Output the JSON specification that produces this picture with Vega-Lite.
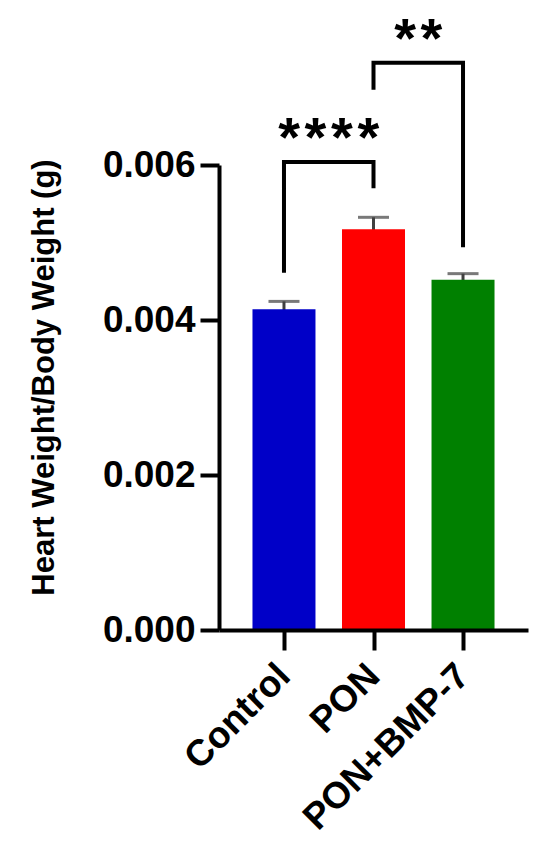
{
  "$schema": "https://vega.github.io/schema/vega-lite/v6.json",
  "width": 309,
  "height": 465,
  "autosize": {"type": "none"},
  "padding": {"left": 219, "top": 165, "right": 22, "bottom": 230},
  "background": "white",
  "config": {"view": {"stroke": null}, "font": "Liberation Sans"},
  "datasets": {
    "bars": [
      {"group": "Control", "x": 1, "y": 0.00414, "sem": 0.0001},
      {"group": "PON", "x": 2, "y": 0.00517, "sem": 0.000155},
      {"group": "PON+BMP-7", "x": 3, "y": 0.00452, "sem": 0.000078}
    ],
    "brackets": [
      {"b": "A", "k": 1, "x": 1, "y": 0.00461},
      {"b": "A", "k": 2, "x": 1, "y": 0.00604},
      {"b": "A", "k": 3, "x": 2, "y": 0.00604},
      {"b": "A", "k": 4, "x": 2, "y": 0.0057},
      {"b": "B", "k": 1, "x": 2, "y": 0.00697},
      {"b": "B", "k": 2, "x": 2, "y": 0.00732},
      {"b": "B", "k": 3, "x": 3, "y": 0.00732},
      {"b": "B", "k": 4, "x": 3, "y": 0.00494}
    ],
    "stars": [
      {"x": 1.5, "y": 0.006116, "label": "*\u200a*\u200a*\u200a*"},
      {"x": 2.5, "y": 0.007394, "label": "*\u200a*"}
    ]
  },
  "encoding": {
    "x": {
      "field": "x", "type": "quantitative",
      "scale": {"domain": [0.33, 3.67], "nice": false, "zero": false},
      "axis": {
        "values": [1, 2, 3],
        "labelExpr": "datum.value == 1 ? 'Control' : datum.value == 2 ? 'PON' : 'PON+BMP-7'",
        "title": null,
        "labelAngle": -45, "labelAlign": "right", "labelBaseline": "middle",
        "labelFontSize": 37, "labelFontWeight": "bold", "labelColor": "black",
        "labelPadding": 20, "labelOverlap": false, "labelFlush": false, "labelBound": false, "labelLimit": 0,
        "tickSize": 20, "tickWidth": 4, "tickColor": "black",
        "domainWidth": 4, "domainColor": "black", "grid": false, "zindex": 1
      }
    },
    "y": {
      "field": "y", "type": "quantitative",
      "scale": {"domain": [0, 0.006], "nice": false},
      "axis": {
        "values": [0, 0.002, 0.004, 0.006], "format": ".3f",
        "title": "Heart Weight/Body Weight (g)",
        "titleFontSize": 31, "titleFontWeight": "bold", "titleColor": "black",
        "titleAngle": -90, "titleX": -166, "titleY": 212, "titleAlign": "center", "titleBaseline": "alphabetic",
        "labelFontSize": 37, "labelFontWeight": "bold", "labelColor": "black", "labelBaseline": "middle",
        "labelPadding": 5, "labelOverlap": false, "labelFlush": false, "labelLimit": 0,
        "tickSize": 19, "tickWidth": 4, "tickColor": "black",
        "domainWidth": 4, "domainColor": "black", "grid": false, "zindex": 1
      }
    }
  },
  "layer": [
    {
      "data": {"name": "bars"},
      "mark": {
        "type": "errorbar",
        "thickness": 3,
        "color": "#404040",
        "ticks": {"size": 31, "thickness": 3, "color": "#404040"},
        "rule": {"strokeWidth": 3, "color": "#404040"}
      },
      "encoding": {
        "yError": {"field": "sem"}
      }
    },
    {
      "data": {"name": "bars"},
      "mark": {"type": "bar", "size": 63, "orient": "vertical"},
      "encoding": {
        "color": {
          "field": "group", "type": "nominal",
          "scale": {"domain": ["Control", "PON", "PON+BMP-7"], "range": ["#0000c8", "#ff0000", "#008000"]},
          "legend": null
        }
      }
    },
    {
      "data": {"name": "brackets"},
      "mark": {"type": "line", "color": "black", "strokeWidth": 4, "strokeJoin": "miter", "strokeCap": "butt"},
      "encoding": {
        "detail": {"field": "b"},
        "order": {"field": "k"}
      }
    },
    {
      "data": {"name": "stars"},
      "mark": {"type": "text", "fontSize": 56, "fontWeight": "bold", "baseline": "alphabetic", "align": "center", "color": "black"},
      "encoding": {
        "text": {"field": "label"}
      }
    }
  ]
}
